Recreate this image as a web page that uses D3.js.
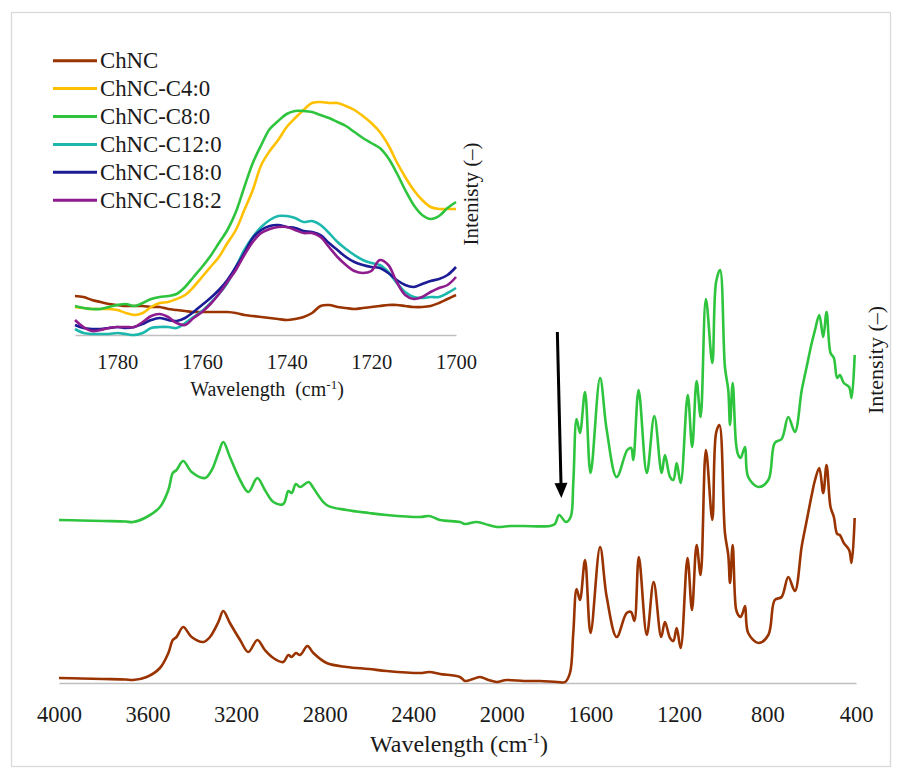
<!DOCTYPE html>
<html>
<head>
<meta charset="utf-8">
<script src="https://cdn.jsdelivr.net/npm/d3@7"></script>
<style>
  html, body { margin: 0; padding: 0; background: #fff; }
  svg { display: block; }
</style>
</head>
<body>
<svg id="chart" width="902" height="778"></svg>
<script>
// ---------- Full-range FTIR spectra (main panel) ----------
const mainTicks = [4000, 3600, 3200, 2800, 2400, 2000, 1600, 1200, 800, 400];

const wnChNC = [4000, 3900, 3800, 3700, 3666, 3604, 3544, 3506, 3486, 3469, 3439, 3401, 3348, 3318, 3280, 3258,
  3228, 3182, 3145, 3104, 3070, 3032, 2987, 2964, 2949, 2930, 2911, 2878, 2851, 2791, 2700, 2600, 2520, 2369,
  2327, 2279, 2189, 2166, 2130, 2098, 2060, 2023, 1978, 1900, 1827, 1750, 1714, 1692, 1677, 1662, 1647, 1624,
  1599, 1556, 1526, 1481, 1436, 1416, 1401, 1381, 1345, 1314, 1280, 1263, 1240, 1225, 1210, 1192, 1161, 1141,
  1120, 1102, 1078, 1049, 1032, 1017, 992, 977, 969, 957, 942, 932, 921, 912, 901, 887, 841, 796, 767, 736,
  706, 676, 645, 623, 600, 585, 566, 548, 533, 515, 500, 485, 473, 455, 431, 420, 406];
const intChNC = [0.05, 0.045, 0.04, 0.035, 0.03, 0.06, 0.15, 0.30, 0.43, 0.46, 0.56, 0.46, 0.41, 0.46, 0.61, 0.72,
  0.60, 0.43, 0.31, 0.43, 0.33, 0.25, 0.21, 0.28, 0.26, 0.30, 0.28, 0.37, 0.30, 0.20, 0.16, 0.14, 0.12, 0.10,
  0.11, 0.09, 0.06, 0.02, 0.04, 0.06, 0.03, 0.01, 0.03, 0.02, 0.02, 0.01, 0.01, 0.10, 0.50, 0.94, 0.83, 1.23,
  0.50, 1.36, 0.86, 0.46, 0.70, 0.71, 0.62, 1.26, 0.48, 1.01, 0.46, 0.61, 0.45, 0.42, 0.55, 0.35, 1.25, 0.73,
  1.38, 1.08, 2.33, 1.63, 2.50, 2.58, 1.50, 1.28, 1.00, 1.38, 0.74, 0.68, 0.66, 0.70, 0.77, 0.50, 0.40, 0.48,
  0.83, 0.86, 1.06, 0.92, 1.37, 1.62, 1.88, 2.03, 2.15, 1.90, 2.18, 1.76, 1.66, 1.49, 1.48, 1.40, 1.33, 1.20, 1.65];

const wnC8 = [4000, 3900, 3800, 3700, 3666, 3604, 3544, 3506, 3486, 3469, 3439, 3401, 3340, 3310, 3280, 3258,
  3228, 3182, 3145, 3104, 3070, 3032, 2987, 2964, 2949, 2930, 2911, 2872, 2851, 2791, 2700, 2600, 2520, 2369,
  2327, 2279, 2189, 2166, 2113, 2060, 2023, 1960, 1903, 1782, 1760, 1741, 1710, 1689, 1677, 1662, 1647, 1624,
  1599, 1556, 1526, 1481, 1433, 1416, 1406, 1382, 1345, 1311, 1278, 1263, 1240, 1225, 1210, 1192, 1160, 1140,
  1120, 1102, 1078, 1049, 1032, 1014, 992, 977, 969, 957, 942, 932, 921, 912, 901, 887, 841, 796, 767, 736,
  706, 676, 645, 623, 600, 585, 566, 548, 533, 515, 500, 485, 473, 455, 431, 420, 406];
const intC8 = [1.63, 1.625, 1.62, 1.615, 1.61, 1.66, 1.76, 1.93, 2.10, 2.13, 2.22, 2.11, 2.05, 2.13, 2.30, 2.41,
  2.26, 2.03, 1.91, 2.05, 1.93, 1.81, 1.79, 1.92, 1.90, 1.99, 1.96, 2.01, 1.95, 1.78, 1.73, 1.70, 1.68, 1.66,
  1.67, 1.63, 1.61, 1.59, 1.61, 1.58, 1.56, 1.57, 1.57, 1.57, 1.59, 1.68, 1.61, 1.66, 2.00, 2.64, 2.50, 2.91,
  2.10, 3.05, 2.53, 2.06, 2.33, 2.35, 2.23, 2.93, 2.10, 2.67, 2.10, 2.28, 2.06, 2.03, 2.20, 2.00, 2.88, 2.36,
  3.02, 2.66, 3.84, 3.20, 4.01, 4.13, 3.16, 2.93, 2.58, 3.00, 2.40, 2.28, 2.25, 2.30, 2.36, 2.06, 1.96, 2.03,
  2.40, 2.44, 2.66, 2.51, 2.93, 3.16, 3.40, 3.53, 3.68, 3.46, 3.71, 3.30, 3.25, 3.05, 3.08, 3.00, 2.96, 2.85, 3.28];

// arrow marking the ester carbonyl band: [wavenumber, intensity]
const arrowFrom = [1749, 3.51];
const arrowTo = [1731, 1.85];

// ---------- Carbonyl region close-up (inset) ----------
const insetTicks = [1780, 1760, 1740, 1720, 1700];
const wnInset = [1790, 1788, 1786, 1784, 1782, 1780, 1778, 1776, 1774, 1772, 1770, 1768, 1766, 1764, 1762, 1760,
  1758, 1756, 1754, 1752, 1750, 1748, 1746, 1744, 1742, 1740, 1738, 1736, 1734, 1732, 1730, 1728, 1726, 1724,
  1722, 1720, 1718, 1716, 1714, 1712, 1710, 1708, 1706, 1704, 1702, 1700];
const insetChNC = [0.39, 0.38, 0.35, 0.33, 0.31, 0.30, 0.29, 0.29, 0.29, 0.28, 0.28, 0.26, 0.25, 0.24, 0.23, 0.23,
  0.23, 0.23, 0.23, 0.22, 0.20, 0.19, 0.18, 0.17, 0.16, 0.15, 0.16, 0.18, 0.22, 0.29, 0.30, 0.28, 0.27, 0.26,
  0.27, 0.28, 0.29, 0.30, 0.30, 0.29, 0.28, 0.28, 0.29, 0.32, 0.36, 0.40];
const insetC4 = [0.28, 0.27, 0.26, 0.26, 0.26, 0.25, 0.22, 0.20, 0.22, 0.28, 0.32, 0.33, 0.36, 0.40, 0.48, 0.58,
  0.68, 0.78, 0.92, 1.05, 1.25, 1.45, 1.70, 1.84, 1.95, 2.08, 2.17, 2.25, 2.32, 2.33, 2.32, 2.32, 2.29, 2.25,
  2.19, 2.12, 2.03, 1.90, 1.73, 1.58, 1.45, 1.35, 1.28, 1.26, 1.26, 1.26];
const insetC8 = [0.29, 0.27, 0.26, 0.26, 0.28, 0.30, 0.31, 0.29, 0.32, 0.36, 0.38, 0.39, 0.41, 0.48, 0.58, 0.68,
  0.79, 0.92, 1.05, 1.23, 1.48, 1.72, 1.90, 2.06, 2.14, 2.21, 2.24, 2.24, 2.23, 2.20, 2.17, 2.13, 2.09, 2.03,
  1.97, 1.92, 1.87, 1.77, 1.62, 1.45, 1.30, 1.20, 1.16, 1.19, 1.27, 1.33];
const insetC12 = [0.06, 0.02, 0.01, 0.01, 0.01, 0.02, 0.01, 0.00, 0.02, 0.07, 0.08, 0.08, 0.07, 0.12, 0.18, 0.24,
  0.32, 0.41, 0.52, 0.68, 0.85, 0.98, 1.08, 1.15, 1.19, 1.19, 1.17, 1.13, 1.14, 1.10, 1.02, 0.93, 0.86, 0.80,
  0.75, 0.72, 0.70, 0.63, 0.52, 0.43, 0.38, 0.37, 0.38, 0.38, 0.42, 0.47];
const insetC18 = [0.10, 0.07, 0.06, 0.06, 0.07, 0.08, 0.07, 0.08, 0.11, 0.15, 0.17, 0.15, 0.14, 0.17, 0.23, 0.30,
  0.37, 0.45, 0.55, 0.68, 0.82, 0.97, 1.05, 1.09, 1.10, 1.08, 1.07, 1.04, 1.03, 1.00, 0.92, 0.85, 0.78, 0.73,
  0.70, 0.68, 0.67, 0.62, 0.55, 0.50, 0.48, 0.51, 0.54, 0.56, 0.60, 0.68];
const insetC18u = [0.15, 0.08, 0.04, 0.05, 0.07, 0.08, 0.08, 0.08, 0.13, 0.19, 0.21, 0.18, 0.12, 0.10, 0.17, 0.23,
  0.31, 0.41, 0.53, 0.65, 0.80, 0.93, 1.02, 1.06, 1.08, 1.08, 1.05, 1.02, 1.02, 0.98, 0.88, 0.78, 0.70, 0.64,
  0.62, 0.64, 0.75, 0.70, 0.53, 0.40, 0.36, 0.38, 0.43, 0.47, 0.50, 0.58];

const seriesNames = ["ChNC", "ChNC-C4:0", "ChNC-C8:0", "ChNC-C12:0", "ChNC-C18:0", "ChNC-C18:2"];
const seriesColors = ["#993300", "#ffc000", "#2ec43e", "#1db8ad", "#1c1c96", "#8e1c8e"];
const insetSeries = [insetChNC, insetC4, insetC8, insetC12, insetC18, insetC18u];

const SERIF = '"Liberation Serif"';
const INK = "#1a1a1a";

// ---------- drawing ----------
const svg = d3.select("#chart");

svg.append("rect").attr("x", 0).attr("y", 0).attr("width", 902).attr("height", 778).attr("fill", "#fff");
svg.append("rect").attr("x", 11.5).attr("y", 12.5).attr("width", 879).attr("height", 754)
  .attr("fill", "none").attr("stroke", "#d9d9d9").attr("stroke-width", 1.3);

function label(sel, size) {
  return sel.style("font-family", SERIF).style("font-size", size + "px").attr("fill", INK);
}

// main panel scales
const x = d3.scaleLinear().domain([4000, 400]).range([59, 856]);
const y = d3.scaleLinear().domain([0, 4.3]).range([683, 253]);

const mainLine = d3.line()
  .x(d => x(d[0])).y(d => y(d[1]))
  .curve(d3.curveCatmullRom.alpha(0.5));

// baseline axis with labels only
const xAxis = d3.axisBottom(x).tickValues(mainTicks).tickSize(0).tickPadding(0).tickFormat(d3.format("d"));
const gx = svg.append("g").attr("transform", `translate(0,${y(0)})`).call(xAxis);
gx.attr("font-family", null).attr("font-size", null);
gx.select(".domain").attr("stroke", "#bfbfbf").attr("stroke-width", 1.5);
label(gx.selectAll(".tick text").attr("dy", null).attr("y", 39), 22.5);

svg.append("path").datum(d3.zip(wnChNC, intChNC))
  .attr("d", mainLine).attr("fill", "none").attr("stroke", seriesColors[0])
  .attr("stroke-width", 2.6).attr("stroke-linejoin", "round");
svg.append("path").datum(d3.zip(wnC8, intC8))
  .attr("d", mainLine).attr("fill", "none").attr("stroke", seriesColors[2])
  .attr("stroke-width", 2.6).attr("stroke-linejoin", "round");

// axis titles
const mainTitle = label(svg.append("text").attr("x", 459).attr("y", 752).attr("text-anchor", "middle"), 24);
mainTitle.append("tspan").text("Wavelength (cm");
mainTitle.append("tspan").text("-1").attr("dy", -9).style("font-size", "15px");
mainTitle.append("tspan").text(")").attr("dy", 9);

label(svg.append("text").attr("transform", "translate(883,360) rotate(-90)")
  .attr("text-anchor", "middle"), 22).text("Intensity (–)");

// arrow
const ax0 = x(arrowFrom[0]), ay0 = y(arrowFrom[1]);
const ax1 = x(arrowTo[0]), ay1 = y(arrowTo[1]);
const ang = Math.atan2(ay1 - ay0, ax1 - ax0);
const headLen = 15, headHalf = 6.5;
const bx = ax1 - headLen * Math.cos(ang), by = ay1 - headLen * Math.sin(ang);
svg.append("line").attr("x1", ax0).attr("y1", ay0).attr("x2", bx).attr("y2", by)
  .attr("stroke", "#000").attr("stroke-width", 3);
svg.append("path")
  .attr("d", `M${ax1},${ay1} L${bx - headHalf * Math.sin(ang)},${by + headHalf * Math.cos(ang)} L${bx + headHalf * Math.sin(ang)},${by - headHalf * Math.cos(ang)} Z`)
  .attr("fill", "#000");

// ---------- inset ----------
const xi = d3.scaleLinear().domain([1790, 1700]).range([75, 456]);
const yi = d3.scaleLinear().domain([0, 2.4]).range([335, 95]);

const insetLine = d3.line()
  .x(d => xi(d[0])).y(d => yi(d[1]))
  .curve(d3.curveCatmullRom.alpha(0.5));

const xiAxis = d3.axisBottom(xi).tickValues(insetTicks).tickSize(0).tickPadding(0).tickFormat(d3.format("d"));
const gxi = svg.append("g").attr("transform", `translate(0,${yi(0)})`).call(xiAxis);
gxi.attr("font-family", null).attr("font-size", null);
gxi.select(".domain").attr("stroke", "#bfbfbf").attr("stroke-width", 1.5);
label(gxi.selectAll(".tick text").attr("dy", null).attr("y", 34), 20.5);

insetSeries.forEach((vals, i) => {
  svg.append("path").datum(d3.zip(wnInset, vals))
    .attr("d", insetLine).attr("fill", "none").attr("stroke", seriesColors[i])
    .attr("stroke-width", 2.6).attr("stroke-linejoin", "round");
});

const insetTitle = label(svg.append("text").attr("x", 267).attr("y", 396).attr("text-anchor", "middle"), 20)
  .style("white-space", "pre");
insetTitle.append("tspan").text("Wavelength  (cm");
insetTitle.append("tspan").text("-1").attr("dy", -7).style("font-size", "13px");
insetTitle.append("tspan").text(")").attr("dy", 7);

label(svg.append("text").attr("transform", "translate(478,194) rotate(-90)")
  .attr("text-anchor", "middle"), 21).text("Intenisty (–)");

// legend
const legend = svg.append("g");
seriesNames.forEach((name, i) => {
  const ly = 60.7 + i * 27.9;
  legend.append("line").attr("x1", 53).attr("x2", 97).attr("y1", ly).attr("y2", ly)
    .attr("stroke", seriesColors[i]).attr("stroke-width", 3);
  label(legend.append("text").attr("x", 100).attr("y", ly + 7.5), 22.8).text(name);
});
</script>
</body>
</html>
